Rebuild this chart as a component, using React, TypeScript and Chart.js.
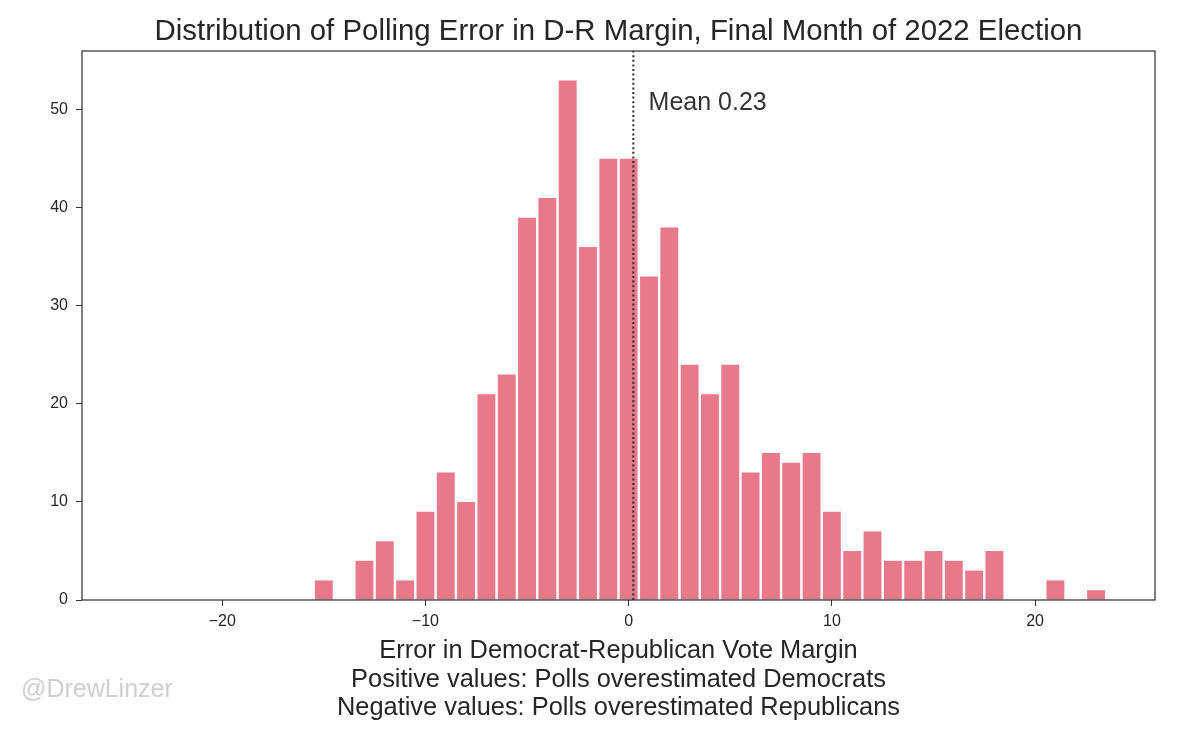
import React, { useEffect, useRef } from 'react';
import Chart from 'chart.js/auto';

// ---- data ----
const binCenters = [
  -24, -23, -22, -21, -20, -19, -18, -17, -16, -15, -14, -13, -12, -11, -10, -9,
  -8, -7, -6, -5, -4, -3, -2, -1, 0, 1, 2, 3, 4, 5, 6, 7,
  8, 9, 10, 11, 12, 13, 14, 15, 16, 17, 18, 19, 20, 21, 22, 23,
];
const counts = [
  0, 0, 0, 0, 0, 0, 0, 0, 0, 2, 0, 4, 6, 2, 9, 13,
  10, 21, 23, 39, 41, 53, 36, 45, 45, 33, 38, 24, 21, 24, 13, 15,
  14, 15, 9, 5, 7, 4, 4, 5, 4, 3, 5, 0, 0, 2, 0, 1,
];
const xTickValues = [-20, -10, 0, 10, 20];
const yTickValues = [0, 10, 20, 30, 40, 50];
const xRange = [-26.9, 25.9];
const yRange = [0, 56];
const meanValue = 0.23;
const meanLabel = 'Mean 0.23';
const titleText = 'Distribution of Polling Error in D-R Margin, Final Month of 2022 Election';
const xLabelLines = [
  'Error in Democrat-Republican Vote Margin',
  'Positive values: Polls overestimated Democrats',
  'Negative values: Polls overestimated Republicans',
];
const watermarkText = '@DrewLinzer';

const FONT = "'Liberation Sans', Arial, Helvetica, sans-serif";
const TEXT = '#262626';
const BAR = '#E8798B';

const decorPlugin = {
  id: 'decor',
  afterDatasetsDraw(chart: any) {
    const { ctx, chartArea, scales } = chart;
    const x = scales.x.getPixelForValue(meanValue);
    ctx.save();
    ctx.strokeStyle = '#2a2a2a';
    ctx.lineWidth = 2;
    ctx.setLineDash([2, 2.6]);
    ctx.beginPath();
    ctx.moveTo(x, chartArea.bottom);
    ctx.lineTo(x, chartArea.top);
    ctx.stroke();
    ctx.restore();
  },
  afterDraw(chart: any) {
    const { ctx, chartArea, scales } = chart;
    const { left, right, top, bottom } = chartArea;
    ctx.save();
    // frame
    ctx.strokeStyle = '#333333';
    ctx.lineWidth = 1.25;
    ctx.strokeRect(left, top, right - left, bottom - top);
    const cx = (left + right) / 2;
    // title
    ctx.fillStyle = TEXT;
    ctx.textAlign = 'center';
    ctx.textBaseline = 'alphabetic';
    ctx.font = `29.4px ${FONT}`;
    ctx.fillText(titleText, cx, 40);
    // x label lines
    ctx.font = `25.4px ${FONT}`;
    xLabelLines.forEach((line, i) => {
      ctx.fillText(line, cx, 658 + i * 28.5);
    });
    // mean label
    ctx.textAlign = 'left';
    ctx.font = `25px ${FONT}`;
    ctx.fillStyle = '#333333';
    ctx.fillText(meanLabel, scales.x.getPixelForValue(meanValue + 0.75), scales.y.getPixelForValue(50));
    // watermark
    ctx.font = `25px ${FONT}`;
    ctx.fillStyle = '#cfcfcf';
    ctx.fillText(watermarkText, 21, 697);
    ctx.restore();
  },
};

export default function App() {
  const ref = useRef<HTMLCanvasElement | null>(null);
  useEffect(() => {
    document.body.style.margin = '0';
    const canvas = ref.current;
    if (!canvas) return;
    const chart = new Chart(canvas, {
      type: 'bar',
      data: {
        datasets: [
          {
            data: binCenters.map((c, i) => ({ x: c, y: counts[i] })),
            backgroundColor: BAR,
            borderWidth: 0,
            barPercentage: 0.88,
            categoryPercentage: 1,
          },
        ],
      },
      options: {
        animation: false,
        responsive: false,
        devicePixelRatio: 1,
        layout: { padding: { top: 51, right: 45, left: 0, bottom: 0 } },
        plugins: { legend: { display: false }, tooltip: { enabled: false }, title: { display: false } },
        scales: {
          x: {
            type: 'linear',
            min: xRange[0],
            max: xRange[1],
            offset: false,
            afterFit: (s: any) => { s.height = 141; },
            afterBuildTicks: (s: any) => { s.ticks = xTickValues.map((v) => ({ value: v })); },
            grid: { display: true, drawOnChartArea: false, drawTicks: true, tickLength: 6, color: '#333333', offset: false },
            border: { display: false },
            ticks: {
              padding: 6,
              color: TEXT,
              font: { family: FONT, size: 16 },
              maxRotation: 0,
              callback: (v: any) => String(v).replace('-', '\u2212'),
            },
          },
          y: {
            type: 'linear',
            min: yRange[0],
            max: yRange[1],
            afterFit: (s: any) => { s.width = 82; },
            afterBuildTicks: (s: any) => { s.ticks = yTickValues.map((v) => ({ value: v })); },
            grid: { display: true, drawOnChartArea: false, drawTicks: true, tickLength: 6, color: '#333333' },
            border: { display: false },
            ticks: {
              padding: 8,
              color: TEXT,
              font: { family: FONT, size: 16 },
              callback: (v: any) => String(v),
            },
          },
        },
      },
      plugins: [decorPlugin],
    } as any);
    return () => chart.destroy();
  }, []);
  return (
    <div style={{ width: 1200, height: 741, background: '#fff' }}>
      <canvas ref={ref} width={1200} height={741} style={{ display: 'block', width: 1200, height: 741 }} />
    </div>
  );
}
